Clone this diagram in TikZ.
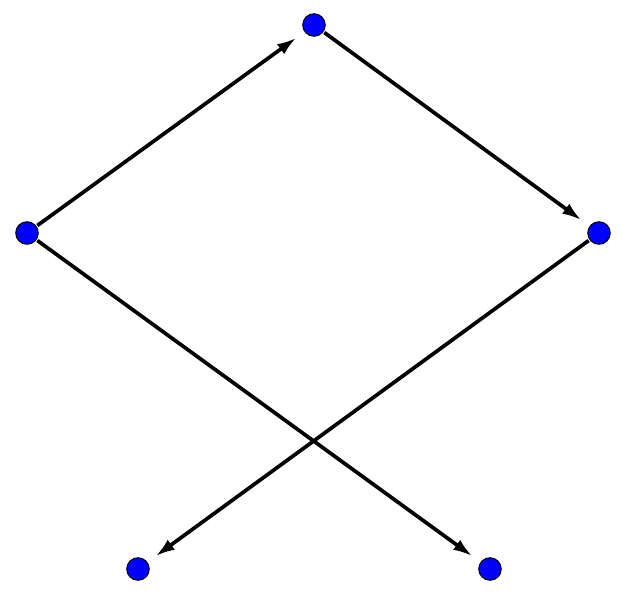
\documentclass[tikz,border=0pt]{standalone}
\usetikzlibrary{arrows.meta}

\tikzset{
	dot/.style={circle, draw=black, fill=blue, line width=0.6pt, minimum size=0.45cm, inner sep=0pt},
	link/.style={line width=2.1pt, -{Latex[length=11pt,width=7pt]}, shorten >=0.2cm, shorten <=0.02cm},
}

\begin{document}
\begin{tikzpicture}[x=0.02cm, y=-0.02cm]
	\useasboundingbox (0,0) rectangle (623,613);
	\node[dot] (t) at (314,25) {};
	\node[dot] (l) at (27,233) {};
	\node[dot] (r) at (599,233) {};
	\node[dot] (bl) at (138,569) {};
	\node[dot] (br) at (490,569) {};
	
	\draw[link] (l) -- (t);
	\draw[link] (t) -- (r);
	\draw[link] (r) -- (bl);
	\draw[link] (l) -- (br);
\end{tikzpicture}
\end{document}
